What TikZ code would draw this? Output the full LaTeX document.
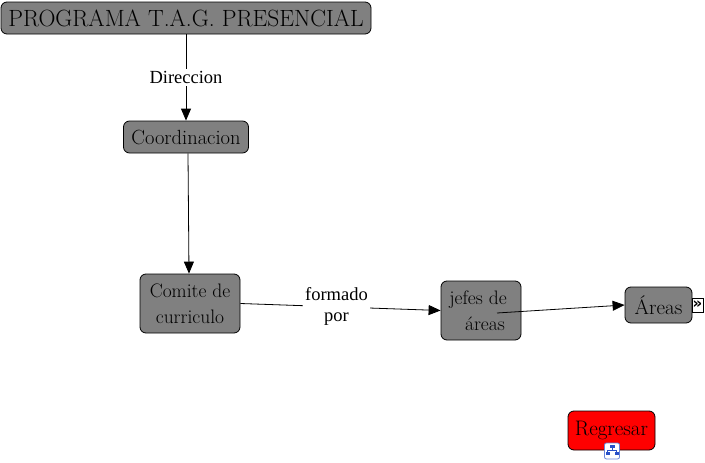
\documentclass[tikz,border=0pt]{standalone}
\usepackage{fontspec}
\newfontfamily\lblfont{Liberation Serif}
\newfontfamily\symfont{DejaVu Sans}
\usetikzlibrary{arrows.meta}
\definecolor{boxgray}{RGB}{128,128,128}
\definecolor{iconblue}{RGB}{40,80,200}
\begin{document}
\begin{tikzpicture}[x=1pt,y=-1pt,
  box/.style={draw=black, line width=0.8pt, rounded corners=6pt, fill=boxgray, text=black, inner sep=0pt, align=center, font=\fontsize{19.5}{26}\selectfont},
  conn/.style={draw=black, line width=0.8pt, -{Triangle[length=12pt,width=10pt]}},
  lbl/.style={fill=white, inner sep=2pt, align=center, font=\lblfont\fontsize{18.5}{21}\selectfont}
]
\useasboundingbox (0,0) rectangle (705,463);
\node[box, minimum width=370pt, minimum height=32pt, font=\fontsize{23.5}{26}\selectfont] (top) at (186,18) {PROGRAMA T.A.G. PRESENCIAL};
\node[box, minimum width=125pt, minimum height=32pt, font=\fontsize{20.5}{26}\selectfont] (coord) at (186,137) {Coordinacion};
\node[box, minimum width=100pt, minimum height=59pt] (comite) at (190,303.5) {Comite de\\curriculo};
\node[box, minimum width=80pt, minimum height=59pt] (jefes) at (481,310.5) {\hspace*{-6pt}jefes de\\\hspace*{8pt}áreas};
\node[box, minimum width=67pt, minimum height=36pt, font=\fontsize{21}{26}\selectfont] (areas) at (658.5,305) {Áreas};
\node[box, fill=red, minimum width=87pt, minimum height=39pt, font=\fontsize{21}{26}\selectfont] (regresar) at (611.5,430.5) {Regresar};
% connectors
\draw[conn] (top.south) -- node[lbl] {Direccion} (coord.north);
\draw[conn] ([xshift=2pt]coord.south) -- ([xshift=-1pt]comite.north);
\draw[conn] (comite.east) -- node[lbl, pos=0.48] {formado\\por} (jefes.west);
\coordinate (jstart) at (497,313);
\draw[conn] (jstart) -- (areas.west);
% icon right of Areas
\node[draw=black, fill=white, line width=0.6pt, minimum width=11pt, minimum height=14pt, inner sep=0pt, font=\symfont\bfseries\fontsize{15}{15}\selectfont] (more) at (697.5,305) {»};
% icon below Regresar
\node[draw=iconblue!70, fill=white, rounded corners=2pt, line width=0.8pt, minimum width=15pt, minimum height=16pt, inner sep=0pt] (mapicon) at (612,451) {};
\begin{scope}[iconblue]
\fill (609.5,445) rectangle (614.5,448);
\draw[line width=0.8pt] (612,448) -- (612,450) (607.5,450) -- (616.5,450) (607.5,450) -- (607.5,452) (616.5,450) -- (616.5,452);
\fill (605.5,452) rectangle (609.5,455);
\fill (614.5,452) rectangle (618.5,455);
\end{scope}
\end{tikzpicture}
\end{document}
